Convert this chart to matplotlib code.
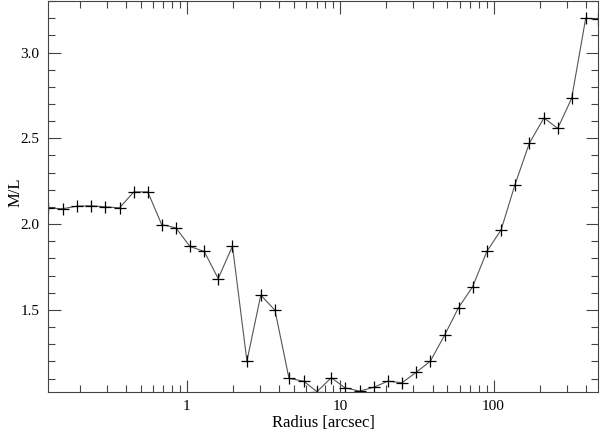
import matplotlib
matplotlib.use("Agg")
import matplotlib.pyplot as plt
from matplotlib.ticker import FixedLocator, MultipleLocator, NullFormatter

# radius [arcsec] and M/L
radius = [0.124, 0.155, 0.192, 0.237, 0.294, 0.363, 0.450, 0.555, 0.684, 0.845,
          1.046, 1.296, 1.598, 1.98, 2.46, 3.03, 3.75, 4.63, 5.77, 7.04,
          8.74, 10.7, 13.35, 16.5, 20.4, 25.3, 31.2, 38.7, 47.9, 59.1,
          72.9, 90.4, 112, 138, 171, 213, 262, 323, 399, 482]
ml = [2.093, 2.090, 2.105, 2.107, 2.101, 2.095, 2.188, 2.188, 1.997, 1.979,
      1.870, 1.841, 1.683, 1.872, 1.202, 1.587, 1.498, 1.101, 1.085, 1.024,
      1.105, 1.047, 1.027, 1.049, 1.085, 1.076, 1.136, 1.202, 1.353, 1.514,
      1.634, 1.841, 1.967, 2.231, 2.471, 2.619, 2.558, 2.733, 3.200, 3.194]

xticks = [1, 10, 100]
xticklabels = ["1", "10", "100"]
yticks = [1.5, 2.0, 2.5, 3.0]

plt.rcParams['font.family'] = ['Liberation Serif', 'DejaVu Serif']

fig = plt.figure(figsize=(6, 4.32), dpi=100)
ax = fig.add_axes([0.08, 0.0926, 0.9167, 0.905])

ax.plot(radius, ml, color="#555555", lw=0.8, marker="+", ms=8,
        mec="black", mew=0.9)

ax.set_xscale("log")
ax.set_xlim(0.124, 480)
ax.set_ylim(1.022, 3.30)

ax.xaxis.set_major_locator(FixedLocator(xticks))
ax.set_xticklabels(xticklabels)
ax.xaxis.set_minor_formatter(NullFormatter())
ax.set_yticks(yticks)
ax.set_yticklabels(["%.1f" % v for v in yticks])
ax.yaxis.set_minor_locator(MultipleLocator(0.1))

ax.tick_params(which="both", direction="in", top=True, right=True,
               labelsize=11, color="#444444", pad=6)
ax.tick_params(which="major", length=9, width=0.8)
ax.tick_params(which="minor", length=5, width=0.8)
for s in ax.spines.values():
    s.set_linewidth(0.8)
    s.set_color("#444444")

ax.set_xlabel("Radius [arcsec]", fontsize=12, labelpad=1)
ax.set_ylabel("M/L", fontsize=12)
ax.yaxis.set_label_coords(-0.045, 0.51)

fig.savefig("out.png", dpi=100)
